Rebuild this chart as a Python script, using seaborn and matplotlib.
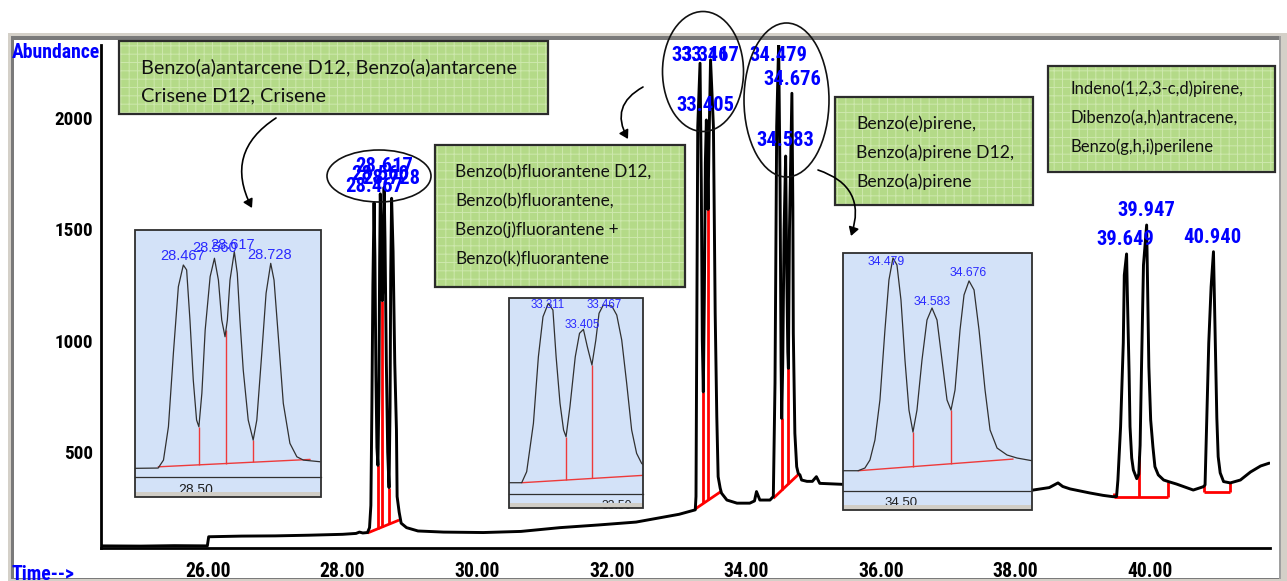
import numpy as np
import pandas as pd
import matplotlib
matplotlib.use("Agg")
import matplotlib.pyplot as plt
import seaborn as sns
from matplotlib.patches import Rectangle, Ellipse, FancyArrowPatch
from matplotlib import font_manager as fm
from matplotlib.ticker import MultipleLocator, FuncFormatter

# ---------------- data: total ion chromatogram ----------------
time_min = [24.41, 25.0, 25.5, 25.99, 26.01, 26.5, 27.0, 27.5, 28.0, 28.2, 28.25, 28.3, 28.37,
            28.40, 28.42, 28.435, 28.45, 28.467, 28.48, 28.495, 28.51, 28.525, 28.54,
            28.55, 28.56, 28.575, 28.59, 28.60, 28.61, 28.617, 28.63, 28.65, 28.67,
            28.69, 28.705, 28.715, 28.728, 28.75, 28.775, 28.80, 28.81, 28.84, 28.87, 28.95,
            29.12, 29.5, 30.09, 30.65, 31.23, 31.8, 32.36, 32.69, 33.0, 33.24,
            33.251, 33.26, 33.277, 33.311, 33.33, 33.345, 33.36, 33.375, 33.39, 33.405,
            33.418, 33.43, 33.445, 33.467, 33.49, 33.51, 33.536, 33.56, 33.58, 33.61,
            33.63, 33.71, 33.86, 34.05, 34.12, 34.15, 34.2, 34.35, 34.40,
            34.425, 34.45, 34.479, 34.50, 34.515, 34.525, 34.54, 34.56, 34.583, 34.60,
            34.615, 34.624, 34.64, 34.676, 34.69, 34.697, 34.72, 34.747, 34.77, 34.795,
            34.82, 34.9, 34.98, 35.04, 35.09, 35.4,
            36.0, 36.5, 37.0, 37.5, 38.0, 38.26, 38.5, 38.63, 38.7, 38.81, 39.1, 39.3, 39.45,
            39.50, 39.52, 39.56, 39.60, 39.615, 39.649, 39.66, 39.686, 39.70, 39.725,
            39.75, 39.80, 39.83, 39.85, 39.87, 39.90, 39.947, 39.96, 39.98, 40.007,
            40.04, 40.07, 40.12, 40.2, 40.27, 40.39, 40.64, 40.79, 40.815, 40.84,
            40.87, 40.905, 40.94, 40.95, 40.97, 40.99, 41.01, 41.04, 41.09, 41.19,
            41.34, 41.49, 41.64, 41.77]
abundance = [78, 77, 79, 78, 119, 122, 123, 126, 130, 134, 140, 136, 138,
             160, 260, 700, 1250, 1620, 1380, 850, 520, 440, 780,
             1350, 1660, 1450, 1180, 1250, 1560, 1690, 1450, 900, 500,
             340, 700, 1300, 1640, 1400, 900, 600, 300, 230, 180, 160,
             145, 140, 138, 143, 160, 172, 185, 203, 220, 240,
             300, 855, 1962, 2247, 1700, 1000, 770, 1200, 1800, 1992,
             1800, 1590, 1900, 2262, 2100, 1962, 1124, 659, 389, 338,
             315, 284, 270, 270, 280, 322, 284, 284, 300,
             810, 1962, 2337, 1700, 900, 651, 900, 1500, 1830, 1300,
             950, 876, 1500, 2112, 1600, 1033, 584, 434, 404, 397,
             374, 368, 368, 389, 359, 355,
             345, 340, 338, 335, 330, 329, 340, 361, 345, 334, 316, 305, 299,
             300, 374, 614, 990, 1295, 1390, 1215, 861, 614, 473,
             419, 380, 400, 530, 868, 1340, 1520, 1260, 883, 644,
             524, 434, 397, 374, 367, 356, 329, 344, 352, 636,
             990, 1243, 1400, 1250, 945, 653, 479, 406, 367, 361,
             374, 410, 437, 450]

# integration baselines (red) and peak drop lines
base_t = [[28.37, 28.84], [33.24, 33.62], [34.40, 34.79], [39.46, 40.26], [40.80, 41.19]]
base_v = [[136, 194], [244, 322], [292, 404], [299, 299], [322, 322]]
drop_t = [28.525, 28.59, 28.69, 33.36, 33.43, 34.525, 34.624, 39.46, 39.84, 40.26, 40.80, 41.19]
drop_lo = [156, 163, 175, 269, 283, 328, 356, 299, 299, 299, 322, 322]
drop_hi = [440, 1180, 340, 770, 1590, 651, 876, 316, 482, 367, 350, 361]

# peak labels (retention times) in the main chromatogram
peak_labels = ["28.617", "28.560", "28.728", "28.467", "33.311", "33.467", "33.405",
               "34.479", "34.676", "34.583", "39.947", "39.649", "40.940"]
peak_label_x = [28.612, 28.560, 28.728, 28.467, 33.311, 33.467, 33.395,
                34.473, 34.676, 34.583, 39.94, 39.63, 40.93]
peak_label_y = [1781, 1749, 1727, 1695, 2280, 2280, 2059, 2280, 2176, 1902, 1583, 1457, 1462]

# ---------------- data: zoomed insets ----------------
ins1_t = [28.318, 28.388, 28.404, 28.419, 28.434, 28.449, 28.464, 28.474, 28.484, 28.494,
          28.504, 28.511, 28.520, 28.530, 28.545, 28.558, 28.570, 28.580, 28.590, 28.597,
          28.605, 28.618, 28.627, 28.635, 28.645, 28.660, 28.675, 28.686, 28.701, 28.714,
          28.728, 28.738, 28.751, 28.766, 28.786, 28.807, 28.827, 28.877]
ins1_v = [138, 140, 198, 441, 978, 1462, 1620, 1584, 1219, 782,
          490, 441, 685, 1146, 1535, 1669, 1510, 1219, 1097, 1219,
          1510, 1717, 1559, 1219, 854, 490, 344, 490, 976, 1414,
          1632, 1510, 1097, 612, 320, 222, 198, 186]
ins1_base_t = [28.388, 28.847]
ins1_base_v = [149, 203]
ins1_drop_t = [28.511, 28.593, 28.675]
ins1_drop_lo = [163, 173, 183]
ins1_drop_hi = [441, 1146, 344]
ins1_labels = ["28.467", "28.560", "28.617", "28.728"]
ins1_lab_x = [28.463, 28.560, 28.614, 28.726]
ins1_lab_y = [1685, 1747, 1766, 1693]

ins2_t = [33.197, 33.232, 33.246, 33.265, 33.279, 33.292, 33.307, 33.320, 33.329, 33.340,
          33.350, 33.357, 33.368, 33.383, 33.395, 33.406, 33.417, 33.430, 33.441, 33.450,
          33.462, 33.486, 33.500, 33.514, 33.528, 33.542, 33.556, 33.570, 33.585]
ins2_v = [244, 244, 367, 907, 1651, 2098, 2248, 2173, 1651, 1131,
          833, 758, 1093, 1651, 1913, 1957, 1763, 1559, 1838, 2136,
          2229, 2218, 2117, 1838, 1354, 833, 572, 461, 405]
ins2_base_t = [33.232, 33.59]
ins2_base_v = [244, 330]
ins2_drop_t = [33.357, 33.43]
ins2_drop_lo = [274, 292]
ins2_drop_hi = [758, 1559]
ins2_labels = ["33.311", "33.405", "33.467"]
ins2_lab_x = [33.305, 33.402, 33.464]
ins2_lab_y = [2229, 2005, 2229]

ins3_t = [34.356, 34.393, 34.410, 34.4225, 34.435, 34.4475, 34.46, 34.47, 34.48, 34.49,
          34.50, 34.51, 34.52, 34.53, 34.54, 34.5525, 34.565, 34.5775, 34.59, 34.6025,
          34.615, 34.625, 34.635, 34.6475, 34.6575, 34.67, 34.6825, 34.695, 34.71, 34.7225,
          34.74, 34.765, 34.79, 34.8275]
ins3_v = [292, 292, 318, 395, 587, 972, 1645, 2126, 2337, 2270,
          1934, 1356, 875, 664, 875, 1356, 1741, 1856, 1741, 1356,
          972, 875, 1068, 1645, 1982, 2117, 2030, 1645, 1068, 684,
          510, 443, 414, 388]
ins3_base_t = [34.393, 34.78]
ins3_base_v = [292, 404]
ins3_drop_t = [34.53, 34.626]
ins3_drop_lo = [332, 360]
ins3_drop_hi = [664, 875]
ins3_labels = ["34.479", "34.583", "34.676"]
ins3_lab_x = [34.4625, 34.5775, 34.6675]
ins3_lab_y = [2299, 1914, 2193]

box_lines = [
    ["Benzo(a)antarcene D12, Benzo(a)antarcene", "Crisene D12, Crisene"],
    ["Benzo(b)fluorantene D12,", "Benzo(b)fluorantene,", "Benzo(j)fluorantene +",
     "Benzo(k)fluorantene"],
    ["Benzo(e)pirene,", "Benzo(a)pirene D12,", "Benzo(a)pirene"],
    ["Indeno(1,2,3-c,d)pirene,", "Dibenzo(a,h)antracene,", "Benzo(g,h,i)perilene"],
]

# ---------------- style ----------------
sns.set_style("white")
entries = fm.fontManager.ttflist
names = {f.name for f in entries}
STRETCH = "normal"
if "Liberation Sans Narrow" in names:
    NARROW, NSCALE = "Liberation Sans Narrow", 1.0
elif "Roboto Condensed" in names:
    NARROW, NSCALE = "Roboto Condensed", 0.95
elif any(f.name == "DejaVu Sans" and "condensed" in str(f.stretch) and f.weight in ("bold", 700)
         for f in entries):
    NARROW, NSCALE, STRETCH = "DejaVu Sans", 0.8, "condensed"
else:
    NARROW, NSCALE = "DejaVu Sans", 0.7
BOXFONT = "Lato" if "Lato" in names else "DejaVu Sans"
plt.rcParams["font.family"] = [NARROW, "DejaVu Sans"]
plt.rcParams["font.stretch"] = STRETCH
plt.rcParams["hatch.linewidth"] = 0.7

W, H = 1287, 581
fig = plt.figure(figsize=(W / 100, H / 100), dpi=100)
fig.patch.set_facecolor("white")


def fr(x0, y0, x1, y1):
    return [x0 / W, 1 - y1 / H, (x1 - x0) / W, (y1 - y0) / H]


# background window frame
bg = fig.add_axes([0, 0, 1, 1], zorder=0)
bg.set_xlim(0, W); bg.set_ylim(H, 0); bg.axis("off")
bg.add_patch(Rectangle((8, 33), W - 8, H - 33, color="#d4d0c8", lw=0))
bg.add_patch(Rectangle((10.5, 35.5), 1269, 543, color="#7a7a7a", lw=0))
bg.add_patch(Rectangle((13.5, 39.5), 1265.5, 538.5, color="white", lw=0))
bg.add_patch(Rectangle((1279, 35.5), 1.5, 543, color="#a0a0a0", lw=0))

# ---------------- main chromatogram ----------------
ax = fig.add_axes(fr(101, 45, 1270, 548), zorder=1)
ax.patch.set_alpha(0)
df = pd.DataFrame({"time": time_min, "abundance": abundance})
sns.lineplot(data=df, x="time", y="abundance", ax=ax, color="black", linewidth=2.1,
             sort=False, estimator=None, zorder=3)
for bt, bv in zip(base_t, base_v):
    ax.plot(bt, bv, color="#ff0000", lw=2.0, zorder=2, solid_capstyle="butt")
ax.vlines(drop_t, drop_lo, drop_hi, color="#ff0000", lw=2.0, zorder=2)
ax.set_xlim(24.41, 41.78)
ax.set_ylim(68.5, 2329)
ax.set_xlabel(""); ax.set_ylabel("")
for s in ["top", "right"]:
    ax.spines[s].set_visible(False)
for s in ["left", "bottom"]:
    ax.spines[s].set_linewidth(2.0)
    ax.spines[s].set_color("black")
ax.xaxis.set_major_locator(MultipleLocator(2))
ax.xaxis.set_minor_locator(MultipleLocator(0.4))
ax.yaxis.set_major_locator(MultipleLocator(500))
ax.yaxis.set_minor_locator(MultipleLocator(100))
ax.xaxis.set_major_formatter(FuncFormatter(lambda v, p: f"{v:.2f}"))
ax.yaxis.set_major_formatter(FuncFormatter(lambda v, p: f"{v:.0f}"))
ax.tick_params(axis="x", which="major", direction="out", length=8.6, width=1.5, pad=1.8,
               labelsize=15 * NSCALE, colors="black")
ax.tick_params(axis="x", which="minor", direction="out", length=4, width=1.5)
ax.tick_params(axis="y", which="major", direction="out", length=4.3, width=1.5, pad=1.2,
               labelsize=14.5 * NSCALE, colors="black")
ax.tick_params(axis="y", which="minor", direction="out", length=2.2, width=1.5)
for lbl in ax.get_xticklabels() + ax.get_yticklabels():
    lbl.set_fontweight("bold")
ax.grid(False)

for txt, x, y in zip(peak_labels, peak_label_x, peak_label_y):
    ax.text(x, y, txt, color="#0000ff", fontsize=15.5 * NSCALE, fontweight="bold",
            ha="center", va="center", zorder=6, clip_on=False)

# ---------------- insets ----------------
insets = [
    dict(box=(135, 230, 320.7, 497), axis_y=476.7, xlim=(28.318, 28.879), ylim=(77, 1875),
         t=ins1_t, v=ins1_v, bt=ins1_base_t, bv=ins1_base_v, dt=ins1_drop_t, dlo=ins1_drop_lo,
         dhi=ins1_drop_hi, labs=ins1_labels, lx=ins1_lab_x, ly=ins1_lab_y, lfs=10.5,
         tick="28.50", tfs=10),
    dict(box=(509.3, 298.3, 643, 508.3), axis_y=494, xlim=(33.197, 33.574), ylim=(118, 2304),
         t=ins2_t, v=ins2_v, bt=ins2_base_t, bv=ins2_base_v, dt=ins2_drop_t, dlo=ins2_drop_lo,
         dhi=ins2_drop_hi, labs=ins2_labels, lx=ins2_lab_x, ly=ins2_lab_y, lfs=8.3,
         tick="33.50", tfs=8.8),
    dict(box=(843.3, 253, 1032.3, 510), axis_y=490.7, xlim=(34.356, 34.828), ylim=(100, 2385),
         t=ins3_t, v=ins3_v, bt=ins3_base_t, bv=ins3_base_v, dt=ins3_drop_t, dlo=ins3_drop_lo,
         dhi=ins3_drop_hi, labs=ins3_labels, lx=ins3_lab_x, ly=ins3_lab_y, lfs=8.8,
         tick="34.50", tfs=9.5),
]
for d in insets:
    x0, y0, x1, y1 = d["box"]
    bax = fig.add_axes(fr(x0, y0, x1, y1), zorder=2)
    bax.set_facecolor("#d3e2f8")
    bax.set_xticks([]); bax.set_yticks([])
    for s in bax.spines.values():
        s.set_visible(False)
    iax = fig.add_axes(fr(x0, y0, x1, d["axis_y"]), zorder=2.5)
    iax.patch.set_alpha(0)
    sns.lineplot(x=d["t"], y=d["v"], ax=iax, color="#303030", linewidth=0.9,
                 sort=False, estimator=None, zorder=3)
    iax.plot(d["bt"], d["bv"], color="#ee3a3a", lw=1.0, zorder=2)
    iax.vlines(d["dt"], d["dlo"], d["dhi"], color="#ee3a3a", lw=1.0, zorder=2)
    iax.set_xlim(*d["xlim"]); iax.set_ylim(*d["ylim"])
    for s in ["top", "left", "right"]:
        iax.spines[s].set_visible(False)
    iax.spines["bottom"].set_color("#303030"); iax.spines["bottom"].set_linewidth(0.9)
    iax.set_yticks([])
    iax.xaxis.set_major_locator(MultipleLocator(0.1))
    tv = float(d["tick"])
    iax.xaxis.set_major_formatter(FuncFormatter(
        lambda v, p, tv=tv: f"{v:.2f}" if abs(v - tv) < 1e-6 else ""))
    iax.tick_params(axis="x", direction="out", length=3, width=0.8, colors="#303030",
                    labelsize=d["tfs"], pad=1.5)
    for lbl in iax.get_xticklabels():
        lbl.set_fontfamily(["Liberation Sans", "DejaVu Sans"])
        lbl.set_fontweight("normal")
        lbl.set_fontstretch("normal")
        lbl.set_color("#202020")
    for txt, x, y in zip(d["labs"], d["lx"], d["ly"]):
        iax.text(x, y, txt, color="#2a2aff", fontsize=d["lfs"], ha="center", va="center",
                 family=["Liberation Sans", "DejaVu Sans"], fontweight="normal",
                 fontstretch="normal", zorder=5)

# ---------------- overlay: annotation boxes, ellipses, arrows ----------------
ov = fig.add_axes([0, 0, 1, 1], zorder=5)
ov.set_xlim(0, W); ov.set_ylim(H, 0); ov.axis("off"); ov.patch.set_alpha(0)

for d in insets:
    x0, y0, x1, y1 = d["box"]
    ov.add_patch(Rectangle((x0 + 1, y1 - 5), x1 - x0 - 2, 4.5, color="#d0cdc6", lw=0))
    ov.add_patch(Rectangle((x0, y0), x1 - x0, y1 - y0, fill=False, ec="#2e2e2e", lw=1.3))

green_boxes = [(119, 40.5, 548, 114), (435, 145, 685, 287), (835, 97, 1033, 205),
               (1048, 66, 1275, 172)]
text_x = [141, 455, 856, 1070]
text_y0 = [67, 172, 124, 89]
text_size = [14.3, 12.4, 12.7, 12.0]
line_gap = 29
for (x0, y0, x1, y1), tx, ty, fs, lines in zip(green_boxes, text_x, text_y0, text_size,
                                               box_lines):
    ov.add_patch(Rectangle((x0, y0), x1 - x0, y1 - y0, fc="#b4da88", ec="#cde8ad",
                           hatch="++", lw=0))
    ov.add_patch(Rectangle((x0, y0), x1 - x0, y1 - y0, fill=False, ec="#2b2b2b", lw=1.6))
    for i, line in enumerate(lines):
        ov.text(tx, ty + i * line_gap, line, fontsize=fs, family=[BOXFONT, "DejaVu Sans"],
                fontweight="normal", fontstretch="normal", color="#111111",
                ha="left", va="center")

ellipses = [(379, 176, 104, 52), (703, 71.5, 81, 120), (786.5, 100, 85, 154)]
for cx, cy, w, h in ellipses:
    ov.add_patch(Ellipse((cx, cy), w, h, fill=False, ec="#111111", lw=1.2))

arrows = [((276, 118), (252, 208), 0.45), ((643, 87), (628, 139), 0.5),
          ((818, 170), (851, 236), -0.5)]
for a, b, rad in arrows:
    ov.add_patch(FancyArrowPatch(a, b, connectionstyle=f"arc3,rad={rad}",
                                 arrowstyle="-|>,head_length=5,head_width=3",
                                 color="black", lw=1.2, shrinkA=0, shrinkB=0))

ov.text(12, 52, "Abundance", color="#0000ff", fontsize=15 * NSCALE, fontweight="bold",
        ha="left", va="center")
ov.text(12, 574, "Time-->", color="#0000ff", fontsize=15 * NSCALE, fontweight="bold",
        ha="left", va="center")

fig.savefig("out.png", dpi=100)
